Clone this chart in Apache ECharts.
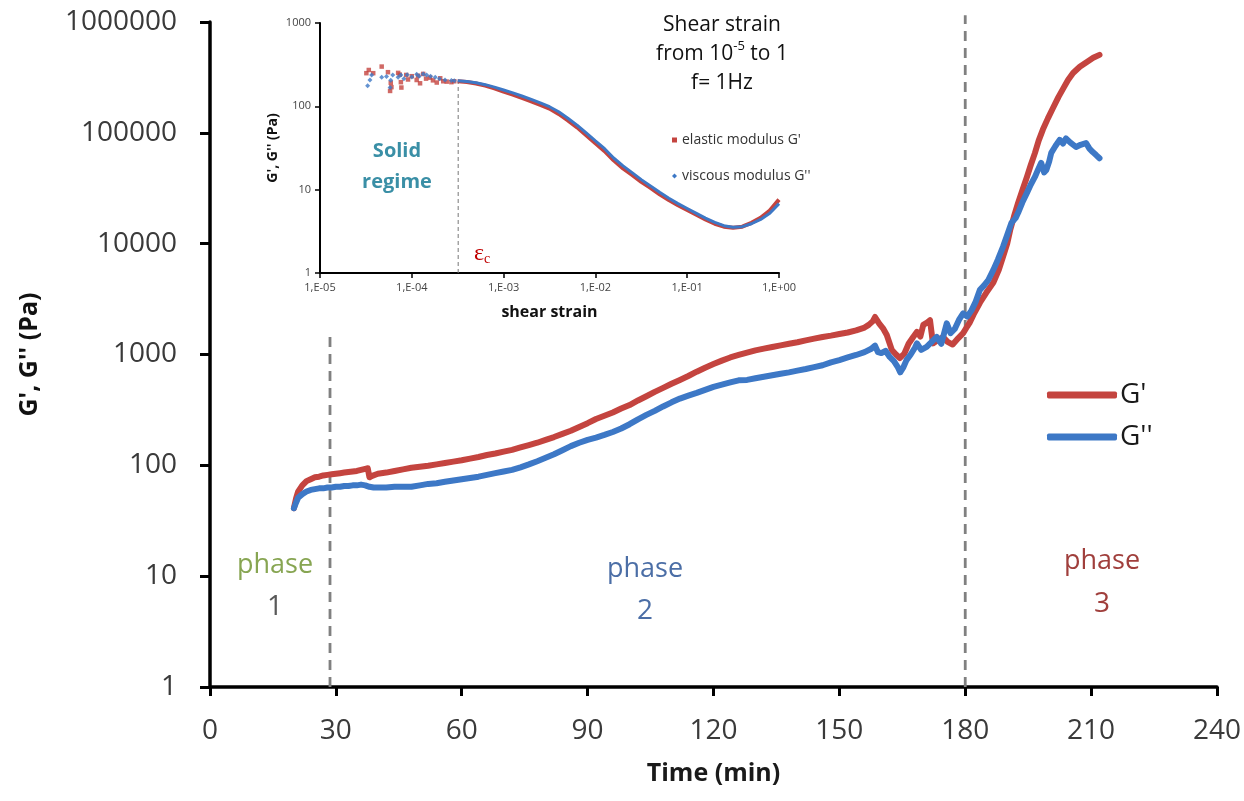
<!DOCTYPE html>
<html>
<head>
<meta charset="utf-8">
<title>G', G'' vs time</title>
<script src="https://cdn.jsdelivr.net/npm/echarts@6/dist/echarts.min.js"></script>
<style>
  html, body { margin: 0; padding: 0; background: #ffffff; }
  #chart { width: 1244px; height: 801px; }
</style>
</head>
<body>
<div id="chart"></div>
<script>
// ---- Main plot: moduli during gelation, [time (min), modulus (Pa)] ----
const storageModulus = [
  [20,41],[20.5,50],[21,58],[22,66],[23,72],[24,75],[25,78],[26,79],[27,81],[28,82],[29,83],[30,84],
  [31,85],[32,86],[33,87],[34,88],[35,89],[36,91],[37,93],[37.6,94],[38,78],[38.5,80],[40,84],[42,86],
  [44,89],[46,92],[48,95],[50,97],[52,99],[54,102],[56,105],[58,108],[60,111],[62,115],[64,119],[66,124],
  [68,128],[70,133],[72,138],[74,145],[76,152],[78,160],[80,170],[82,180],[84,192],[86,205],[88,222],
  [90,240],[92,262],[94,280],[96,300],[98,325],[100,350],[102,385],[104,420],[106,460],[108,500],
  [110,545],[112,590],[114,640],[116,700],[118,760],[120,820],[122,880],[124,940],[126,990],[128,1040],
  [130,1090],[132,1130],[134,1170],[136,1210],[138,1250],[140,1290],[142,1340],[144,1390],[146,1440],
  [148,1480],[150,1530],[152,1580],[154,1650],[156,1750],[157,1850],[158,2000],[158.5,2180],[159.5,1900],
  [160.5,1700],[161.3,1500],[162.5,1100],[163.5,1000],[164.4,930],[165.5,1020],[166.5,1250],[167.6,1440],
  [168.5,1600],[169.3,1450],[170,1850],[171,1950],[171.6,2040],[172.3,1260],[173.5,1350],[174.7,1440],
  [175.8,1300],[177,1230],[178.3,1400],[179.5,1560],[180.5,1800],[181,1920],[182,2300],[183.5,2930],
  [185,3600],[186.7,4450],[188,5800],[189,7600],[190,10000],[190.7,13200],[191.6,17500],[192.6,23300],
  [193.7,31000],[194.7,40000],[195.6,51000],[196.6,65600],[197.5,85000],[198.5,107000],[199.7,135000],
  [201,170000],[202.2,210000],[203.4,253000],[204.5,300000],[205.7,347000],[207.3,395000],[209,436000],
  [210.5,475000],[212,505000]
];
const lossModulus = [
  [20,41],[20.5,46],[21,51],[22,55],[23,58],[24,60],[25,61],[26,62],[27,62],[28,63],[29,63],[30,64],
  [31,64],[32,65],[33,65],[34,66],[35,66],[36,67],[37,66],[38,64],[39,63],[40,63],[42,63],[44,64],
  [46,64],[48,64],[50,66],[52,68],[54,69],[56,71],[58,73],[60,75],[62,77],[64,79],[66,82],[68,85],
  [70,88],[72,91],[74,96],[76,102],[78,109],[80,117],[82,126],[84,137],[86,149],[88,160],[90,170],
  [92,178],[94,188],[96,200],[98,215],[100,235],[102,260],[104,285],[106,310],[108,340],[110,370],
  [112,400],[114,425],[116,450],[118,480],[120,510],[122,535],[124,560],[126,585],[128,590],[130,610],
  [132,630],[134,650],[136,670],[138,690],[140,715],[142,740],[144,770],[146,800],[148,850],[150,890],
  [152,940],[154,990],[156,1050],[157.5,1120],[158.5,1200],[159.2,1050],[160,1030],[161,1080],[162,950],
  [163,870],[164,760],[164.5,690],[165.2,760],[166,890],[167,1000],[168,1150],[168.5,1260],[169.5,1100],
  [170.8,1170],[172,1300],[173.2,1440],[174.3,1250],[175.6,1910],[176.5,1560],[177.5,1700],[178.5,2050],
  [179.5,2350],[180.5,2200],[181.5,2500],[182.5,3000],[183.5,3830],[184.5,4200],[185.5,4700],[186.7,5800],
  [187.8,7200],[189,9360],[190,12000],[191,15400],[192,17000],[192.6,19000],[193.6,23500],[194.7,28700],
  [195.6,34000],[196.6,40000],[197.4,47000],[198.1,53600],[198.8,44000],[199.3,46000],[200,55000],[200.5,66000],
  [201.5,76000],[202.5,86500],[203.3,80000],[204,89000],[205,82000],[206.4,74500],[207.5,78000],
  [208.8,81000],[209.6,72000],[210.4,67000],[211.2,63000],[212,59000]
];
// phase boundaries (min) and the height each dashed marker reaches (Pa)
const phaseBoundaryTimes = [28.6, 180];
const phaseBoundaryTops = [1500, 1150000];

// ---- Inset: strain sweep at 1 Hz ----
const sweepStrain = [
  3.16e-4,3.98e-4,5.01e-4,6.31e-4,7.94e-4,1e-3,1.26e-3,1.58e-3,2.0e-3,2.51e-3,3.16e-3,3.98e-3,
  5.01e-3,6.31e-3,7.94e-3,1e-2,1.26e-2,1.58e-2,2.0e-2,2.51e-2,3.16e-2,3.98e-2,5.01e-2,6.31e-2,
  7.94e-2,1e-1,1.26e-1,1.58e-1,2.0e-1,2.51e-1,3.16e-1,3.98e-1,5.01e-1,6.31e-1,7.94e-1,1
];
const sweepElastic = [
  200,196,188,177,164,150,138,126,115,104,94,81,68,56,45,36,29,22.5,18,15,12.4,10.5,8.8,7.5,6.5,5.7,
  5.0,4.4,3.9,3.6,3.5,3.6,4.0,4.6,5.6,7.6
];
const sweepViscous = [
  203,199,192,182,170,157,145,133,121,110,99,86,72,59.5,48,38.5,31,24,19.3,16,13.2,11.1,9.3,7.9,6.8,
  5.95,5.2,4.55,4.05,3.7,3.55,3.6,3.9,4.4,5.2,6.8
];
// scattered readings at the smallest strains, [strain, modulus (Pa)]
const lowStrainElastic = [
  [3.2e-5,250],[3.4e-5,273],[3.8e-5,250],[4.7e-5,300],[5.5e-5,257],[5.9e-5,192],[5.8e-5,153],[6.0e-5,170],
  [7.1e-5,252],[7.6e-5,195],[7.7e-5,168],[7.4e-5,240],[8.7e-5,238],[9.1e-5,210],[1.0e-4,230],[1.13e-4,207],
  [1.17e-4,233],[1.23e-4,189],[1.33e-4,245],[1.43e-4,215],[1.58e-4,221],[1.7e-4,205],[1.87e-4,193],
  [2.04e-4,217],[2.2e-4,200],[2.4e-4,198],[2.7e-4,195],[2.9e-4,200]
];
const lowStrainViscous = [
  [3.3e-5,177],[3.5e-5,207],[3.65e-5,238],[4.7e-5,224],[5.3e-5,228],[5.8e-5,168],[5.9e-5,205],[6.2e-5,238],
  [7.1e-5,224],[7.6e-5,238],[8.2e-5,215],[8.9e-5,240],[1.0e-4,225],[1.13e-4,243],[1.2e-4,230],[1.33e-4,245],
  [1.45e-4,238],[1.6e-4,230],[1.8e-4,224],[2.0e-4,214],[2.3e-4,207],[2.7e-4,204],[2.9e-4,203]
];
const criticalStrain = 3.2e-4;
const criticalStrainModulus = 200;

const timeTicks = { min: 0, max: 240, step: 30 };

// ---- styles ----
const SANS = '"Open Sans", "Liberation Sans", sans-serif';
const SERIF = '"Liberation Serif", "DejaVu Serif", serif';
const RED = '#c4443f';
const BLUE = '#3d78c6';
const GREY_DASH = '#808080';

const boundarySeries = phaseBoundaryTimes.map((t, i) => ({
  type: 'line', xAxisIndex: 0, yAxisIndex: 0, clip: false, silent: true,
  showSymbol: false, z: 1,
  data: [[t, 1], [t, phaseBoundaryTops[i]]],
  lineStyle: { color: GREY_DASH, width: 2.8, type: [10, 7] }
}));

const insetExp = v => {
  const e = Math.round(Math.log10(v));
  return '1,E' + (e < 0 ? '-' : '+') + String(Math.abs(e)).padStart(2, '0');
};

const option = {
  animation: false,
  backgroundColor: '#ffffff',
  grid: [
    { left: 210, top: 22, width: 1008, height: 665 },
    { left: 320, top: 23, width: 459, height: 250 }
  ],
  xAxis: [
    {
      gridIndex: 0, type: 'value', min: timeTicks.min, max: timeTicks.max, interval: timeTicks.step,
      name: 'Time (min)', nameLocation: 'middle', nameGap: 74,
      nameTextStyle: { fontFamily: SANS, fontSize: 25, fontWeight: 'bold', color: '#1a1a1a' },
      axisLine: { lineStyle: { color: '#000', width: 3.5 } },
      axisTick: { show: true, inside: false, length: 9, lineStyle: { color: '#000', width: 3 } },
      axisLabel: { fontFamily: SANS, fontSize: 28, color: '#3a3a3a', margin: 30 },
      splitLine: { show: false }
    },
    {
      gridIndex: 1, type: 'log', logBase: 10, min: 1e-5, max: 1, interval: 1,
      name: 'shear strain', nameLocation: 'middle', nameGap: 31,
      nameTextStyle: { fontFamily: SANS, fontSize: 16, fontWeight: 'bold', color: '#111' },
      axisLine: { lineStyle: { color: '#000', width: 2 } },
      axisTick: { show: true, inside: false, length: 5, lineStyle: { color: '#000', width: 1.5 } },
      axisLabel: { fontFamily: SANS, fontSize: 11, color: '#444', margin: 9, formatter: insetExp },
      splitLine: { show: false }
    }
  ],
  yAxis: [
    {
      gridIndex: 0, type: 'log', logBase: 10, min: 1, max: 1e6, interval: 1,
      name: "G', G'' (Pa)", nameLocation: 'middle', nameGap: 168, nameRotate: 90,
      nameTextStyle: { fontFamily: SANS, fontSize: 25, fontWeight: 'bold', color: '#111' },
      axisLine: { lineStyle: { color: '#000', width: 3.5 } },
      axisTick: { show: true, inside: false, length: 10, lineStyle: { color: '#000', width: 3 } },
      axisLabel: { fontFamily: SANS, fontSize: 28, color: '#3a3a3a', margin: 33,
        formatter: v => String(Math.round(v)) },
      splitLine: { show: false }
    },
    {
      gridIndex: 1, type: 'log', logBase: 10, min: 1, max: 1000, interval: 1,
      name: "G', G'' (Pa)", nameLocation: 'middle', nameGap: 40, nameRotate: 90,
      nameTextStyle: { fontFamily: SANS, fontSize: 14, fontWeight: 'bold', color: '#111' },
      axisLine: { lineStyle: { color: '#000', width: 2 } },
      axisTick: { show: true, inside: false, length: 5, lineStyle: { color: '#000', width: 1.5 } },
      axisLabel: { fontFamily: SANS, fontSize: 11, color: '#444', margin: 9,
        formatter: v => String(Math.round(v)) },
      splitLine: { show: false }
    }
  ],
  legend: [
    {
      data: ["G'", "G''"], orient: 'vertical', left: 1042, top: 376,
      icon: 'roundRect', itemWidth: 70, itemHeight: 7, itemGap: 14,
      selectedMode: false,
      textStyle: { fontFamily: SANS, fontSize: 28, color: '#1a1a1a', padding: [0, 0, 0, -2] }
    },
    {
      data: [
        { name: "elastic modulus G'", icon: 'rect' },
        { name: "viscous modulus G''", icon: 'diamond' }
      ],
      orient: 'vertical', left: 667, top: 128,
      itemWidth: 5, itemHeight: 5, itemGap: 22, selectedMode: false,
      textStyle: { fontFamily: SANS, fontSize: 14, color: '#333' }
    }
  ],
  series: [
    {
      name: "G'", type: 'line', xAxisIndex: 0, yAxisIndex: 0, data: storageModulus,
      showSymbol: false, z: 3, color: RED,
      lineStyle: { color: RED, width: 6, join: 'round', cap: 'round' }
    },
    {
      name: "G''", type: 'line', xAxisIndex: 0, yAxisIndex: 0, data: lossModulus,
      showSymbol: false, z: 4, color: BLUE,
      lineStyle: { color: BLUE, width: 6, join: 'round', cap: 'round' }
    },
    ...boundarySeries,
    {
      name: "elastic modulus G'", type: 'line', xAxisIndex: 1, yAxisIndex: 1,
      data: sweepStrain.map((s, i) => [s, sweepElastic[i]]),
      showSymbol: false, z: 3, color: RED,
      lineStyle: { color: RED, width: 4 }
    },
    {
      name: "elastic modulus G'", type: 'scatter', xAxisIndex: 1, yAxisIndex: 1,
      data: lowStrainElastic, symbol: 'rect', symbolSize: 4.5, z: 3, color: RED,
      itemStyle: { color: RED }
    },
    {
      name: "viscous modulus G''", type: 'line', xAxisIndex: 1, yAxisIndex: 1,
      data: sweepStrain.map((s, i) => [s, sweepViscous[i]]),
      showSymbol: false, z: 4, color: BLUE,
      lineStyle: { color: BLUE, width: 3 }
    },
    {
      name: "viscous modulus G''", type: 'scatter', xAxisIndex: 1, yAxisIndex: 1,
      data: lowStrainViscous, symbol: 'diamond', symbolSize: 5, z: 4, color: BLUE,
      itemStyle: { color: BLUE }
    },
    {
      type: 'line', xAxisIndex: 1, yAxisIndex: 1, silent: true, showSymbol: false, z: 1,
      data: [[criticalStrain, 1], [criticalStrain, criticalStrainModulus]],
      lineStyle: { color: '#777', width: 1, type: [4, 3] }
    }
  ],
  graphic: [
    // phase annotations
    { type: 'text', x: 275, y: 565, style: { text: 'phase', font: '27px ' + SANS, fill: '#87a552', align: 'center', verticalAlign: 'middle' } },
    { type: 'text', x: 275, y: 607, style: { text: '1', font: '28px ' + SANS, fill: '#595959', align: 'center', verticalAlign: 'middle' } },
    { type: 'text', x: 645, y: 569, style: { text: 'phase', font: '27px ' + SANS, fill: '#4b6ea6', align: 'center', verticalAlign: 'middle' } },
    { type: 'text', x: 645, y: 611, style: { text: '2', font: '28px ' + SANS, fill: '#4b6ea6', align: 'center', verticalAlign: 'middle' } },
    { type: 'text', x: 1102, y: 561, style: { text: 'phase', font: '27px ' + SANS, fill: '#a03f3c', align: 'center', verticalAlign: 'middle' } },
    { type: 'text', x: 1102, y: 604, style: { text: '3', font: '28px ' + SANS, fill: '#a03f3c', align: 'center', verticalAlign: 'middle' } },
    // sweep conditions
    { type: 'text', x: 722, y: 25, style: { text: 'Shear strain', font: '21px ' + SANS, fill: '#111', align: 'center', verticalAlign: 'middle' } },
    { type: 'text', x: 722, y: 54, style: {
        text: '{a|from 10}{s|-5}{a| to 1}', align: 'center', verticalAlign: 'middle',
        rich: {
          a: { fontFamily: SANS, fontSize: 21, fill: '#111', lineHeight: 28 },
          s: { fontFamily: SANS, fontSize: 13, fill: '#111', lineHeight: 13, verticalAlign: 'top' }
        } } },
    { type: 'text', x: 722, y: 83, style: { text: 'f= 1Hz', font: '21px ' + SANS, fill: '#111', align: 'center', verticalAlign: 'middle' } },
    // regime and critical strain
    { type: 'text', x: 397, y: 151, style: { text: 'Solid', font: 'bold 20px ' + SANS, fill: '#3a8fa6', align: 'center', verticalAlign: 'middle' } },
    { type: 'text', x: 397, y: 182, style: { text: 'regime', font: 'bold 20px ' + SANS, fill: '#3a8fa6', align: 'center', verticalAlign: 'middle' } },
    { type: 'text', x: 474, y: 254, style: {
        text: '{e|ε}{c|c}', align: 'left', verticalAlign: 'middle', fill: '#c00000',
        rich: {
          e: { fontFamily: SERIF, fontSize: 24, fill: '#c00000', lineHeight: 24 },
          c: { fontFamily: SERIF, fontSize: 14, fill: '#c00000', lineHeight: 18, verticalAlign: 'bottom' }
        } } }
  ]
};

const chart = echarts.init(document.getElementById('chart'), null, { renderer: 'canvas' });
chart.setOption(option);
</script>
</body>
</html>
